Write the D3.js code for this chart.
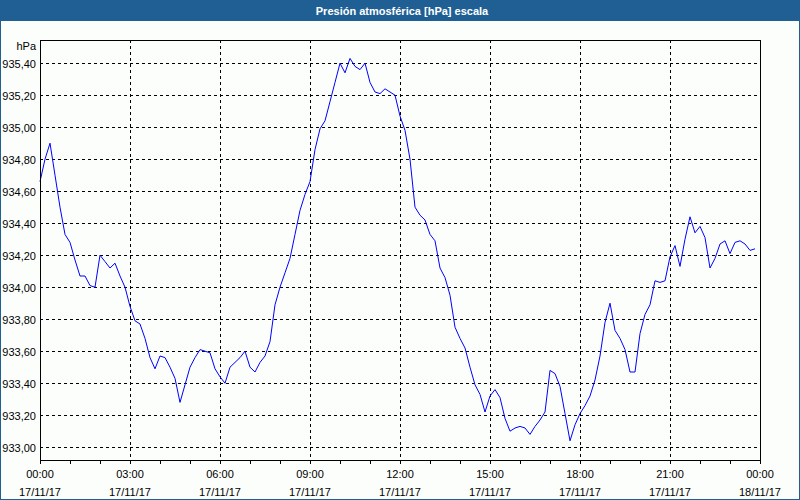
<!DOCTYPE html>
<html>
<head>
<meta charset="utf-8">
<script src="https://cdn.jsdelivr.net/npm/d3@7"></script>
<style>
  html, body { margin: 0; padding: 0; background: #fcfefc; }
  svg { display: block; }
  text { font-family: "Liberation Sans", Arial, sans-serif; }
</style>
</head>
<body>
<svg id="chart" width="800" height="500"></svg>
<script>
// ---- data ----
const title = "Presión atmosférica [hPa] escala";
const unitLabel = "hPa";
const startTime = new Date(2017, 10, 17, 0, 0);
const sampleStepMinutes = 10;
const pressure = [
  934.66, 934.80, 934.90, 934.70, 934.50, 934.33, 934.28, 934.17, 934.07, 934.07,
  934.01, 934.00, 934.20, 934.16, 934.12, 934.15, 934.07, 934.00, 933.88, 933.79,
  933.77, 933.68, 933.56, 933.49, 933.57, 933.56, 933.50, 933.43, 933.28, 933.39,
  933.50, 933.56, 933.61, 933.60, 933.59, 933.49, 933.44, 933.40, 933.50, 933.53,
  933.56, 933.60, 933.50, 933.47, 933.53, 933.57, 933.66, 933.89, 934.00, 934.09,
  934.18, 934.33, 934.48, 934.58, 934.66, 934.86, 934.99, 935.04, 935.16, 935.28,
  935.40, 935.34, 935.43, 935.38, 935.36, 935.40, 935.28, 935.22, 935.21, 935.24,
  935.22, 935.20, 935.07, 934.98, 934.80, 934.50, 934.45, 934.42, 934.33, 934.29,
  934.12, 934.06, 933.95, 933.75, 933.68, 933.62, 933.50, 933.39, 933.33, 933.22,
  933.32, 933.36, 933.31, 933.18, 933.10, 933.12, 933.13, 933.12, 933.08, 933.13,
  933.17, 933.22, 933.48, 933.46, 933.38, 933.21, 933.04, 933.14, 933.21, 933.26,
  933.32, 933.42, 933.57, 933.78, 933.90, 933.73, 933.68, 933.61, 933.47, 933.47,
  933.71, 933.83, 933.89, 934.04, 934.03, 934.04, 934.19, 934.26, 934.13, 934.30,
  934.44, 934.34, 934.38, 934.31, 934.12, 934.18, 934.27, 934.29, 934.21, 934.28,
  934.29, 934.27, 934.23, 934.24
];
const yTicks = [933.00, 933.20, 933.40, 933.60, 933.80, 934.00, 934.20, 934.40, 934.60, 934.80, 935.00, 935.20, 935.40];
const xTickHours = [0, 3, 6, 9, 12, 15, 18, 21, 24];
const yDomain = [932.92, 935.545];

// ---- chart ----
const svg = d3.select("#chart");
const W = 800, H = 500;
const plot = { left: 40, top: 40, right: 760, bottom: 460 };
const frameColor = "#1f5f94";

const data = pressure.map((v, i) => ({
  t: d3.timeMinute.offset(startTime, i * sampleStepMinutes),
  v: v
}));
const endTime = d3.timeHour.offset(startTime, 24);

const x = d3.scaleTime().domain([startTime, endTime]).range([plot.left, plot.right]);
const y = d3.scaleLinear().domain(yDomain).range([plot.bottom, plot.top]);
const crisp = p => Math.round(p) + 0.5;

// background
svg.append("rect").attr("x", 0).attr("y", 0).attr("width", W).attr("height", H).attr("fill", "#fcfefc");

// title bar
svg.append("rect").attr("x", 0).attr("y", 0).attr("width", W).attr("height", 21).attr("fill", frameColor);
svg.append("text")
  .attr("x", 402).attr("y", 15)
  .attr("text-anchor", "middle")
  .attr("fill", "#ffffff")
  .attr("font-size", "11px")
  .attr("font-weight", "bold")
  .text(title);

// outer frame
svg.append("rect").attr("x", 0.5).attr("y", 0.5).attr("width", W - 1).attr("height", H - 1)
  .attr("fill", "none").attr("stroke", frameColor).attr("stroke-width", 1);

// grid
const grid = svg.append("g").attr("stroke", "#000").attr("stroke-width", 1)
  .attr("stroke-dasharray", "3,3").attr("shape-rendering", "crispEdges");
grid.selectAll("line.h").data(yTicks).enter().append("line")
  .attr("x1", plot.left).attr("x2", plot.right)
  .attr("y1", d => crisp(y(d))).attr("y2", d => crisp(y(d)));
grid.selectAll("line.v").data(xTickHours.slice(1, -1)).enter().append("line")
  .attr("x1", d => crisp(x(d3.timeHour.offset(startTime, d))))
  .attr("x2", d => crisp(x(d3.timeHour.offset(startTime, d))))
  .attr("y1", plot.top).attr("y2", plot.bottom);

// y labels
const fmt = d3.format(".2f");
svg.append("g").selectAll("text").data(yTicks).enter().append("text")
  .attr("x", 36).attr("y", d => crisp(y(d)) + 4)
  .attr("text-anchor", "end")
  .attr("font-size", "11px").attr("fill", "#000")
  .text(d => fmt(d).replace(".", ","));
svg.append("text").attr("x", 36).attr("y", 50).attr("text-anchor", "end")
  .attr("font-size", "11px").attr("fill", "#000").text(unitLabel);

// x axis (hourly minor ticks, labels every 3 hours)
const xAxis = d3.axisBottom(x)
  .ticks(d3.timeHour.every(1))
  .tickSize(3)
  .tickFormat("");
const gx = svg.append("g").attr("transform", `translate(0,${plot.bottom + 0.5})`).call(xAxis);
gx.select(".domain").remove();
gx.selectAll(".tick line").attr("stroke", "#000").attr("shape-rendering", "crispEdges");
gx.selectAll(".tick").attr("transform", d => `translate(${crisp(x(d))},0)`);

const timeFmt = d3.timeFormat("%H:%M");
const dateFmt = d3.timeFormat("%d/%m/%y");
const labels = svg.append("g").selectAll("g").data(xTickHours).enter().append("g");
labels.append("text")
  .attr("x", d => x(d3.timeHour.offset(startTime, d)))
  .attr("y", 478).attr("text-anchor", "middle").attr("font-size", "11px").attr("fill", "#000")
  .text(d => timeFmt(d3.timeHour.offset(startTime, d)));
labels.append("text")
  .attr("x", d => x(d3.timeHour.offset(startTime, d)))
  .attr("y", 496).attr("text-anchor", "middle").attr("font-size", "11px").attr("fill", "#000")
  .text(d => dateFmt(d3.timeHour.offset(startTime, d)));

// data line
const line = d3.line().x(d => x(d.t)).y(d => y(d.v));
svg.append("path").datum(data)
  .attr("d", line)
  .attr("fill", "none")
  .attr("stroke", "#0000ff")
  .attr("stroke-width", 1);

// plot border
svg.append("rect")
  .attr("x", plot.left + 0.5).attr("y", plot.top + 0.5)
  .attr("width", plot.right - plot.left).attr("height", plot.bottom - plot.top)
  .attr("fill", "none").attr("stroke", "#000").attr("stroke-width", 1)
  .attr("shape-rendering", "crispEdges");
</script>
</body>
</html>
